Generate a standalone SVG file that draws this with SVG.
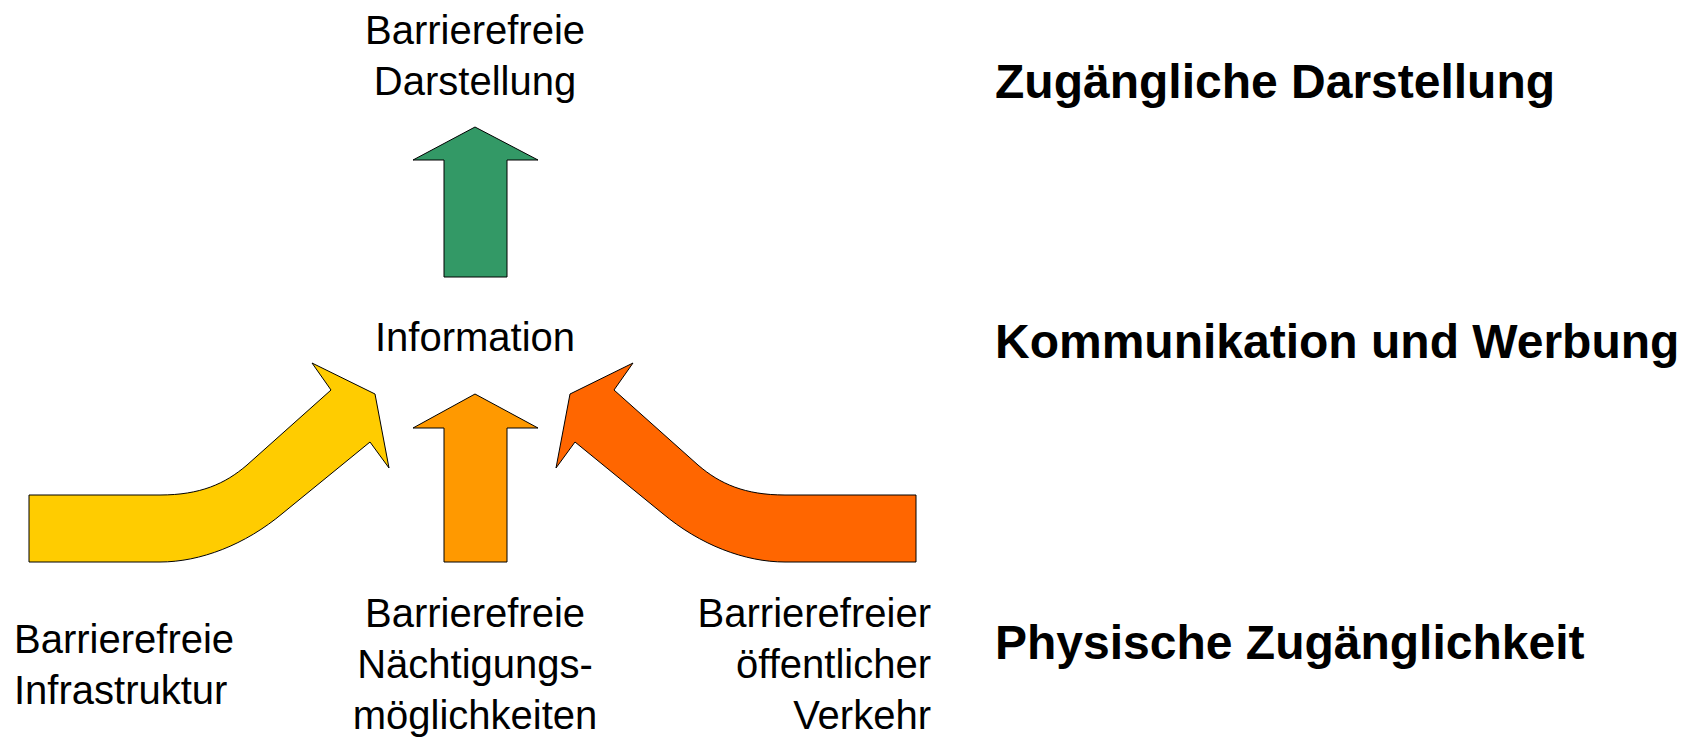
<svg xmlns="http://www.w3.org/2000/svg" width="1693" height="738" viewBox="0 0 1693 738">
<style>
.arrow{stroke:#000;stroke-width:1;stroke-linejoin:miter}
.t{font-family:"Liberation Sans",Arial,sans-serif;font-size:40px;fill:#000}
.h{font-family:"Liberation Sans",Arial,sans-serif;font-size:48px;font-weight:bold;fill:#000}
.m{text-anchor:middle}
.e{text-anchor:end}
</style>
<rect width="1693" height="738" fill="#fff"/>
<g id="connectors">
<path id="arrow-infrastruktur" class="arrow" fill="#FFCC00" d="M29,495 L160,495 C200,495 225,484 247,465 L331,390 L312,363 L375,394 L389,468 L370,442 L283,513 C245,545 200,562 160,562 L29,562 Z"/>
<path id="arrow-naechtigung" class="arrow" fill="#FF9900" d="M444,562 L444,428 L413,428 L475,394 L538,428 L507,428 L507,562 Z"/>
<path id="arrow-verkehr" class="arrow" fill="#FF6600" d="M916,495 L785,495 C745,495 720,484 698,465 L614,390 L633,363 L570,394 L556,468 L575,442 L662,513 C700,545 745,562 785,562 L916,562 Z"/>
<path id="arrow-darstellung" class="arrow" fill="#339966" d="M444,277 L444,160 L413,160 L475,127 L538,160 L507,160 L507,277 Z"/>
</g>
<g id="node-darstellung"><text class="t m" x="475" y="44">Barrierefreie</text><text class="t m" x="475" y="95">Darstellung</text></g>
<g id="node-information"><text class="t m" x="475" y="351">Information</text></g>
<g id="node-infrastruktur"><text class="t" x="14" y="653">Barrierefreie</text><text class="t" x="14" y="704">Infrastruktur</text></g>
<g id="node-naechtigung"><text class="t m" x="475" y="627">Barrierefreie</text><text class="t m" x="475" y="678">Nächtigungs-</text><text class="t m" x="475" y="729">möglichkeiten</text></g>
<g id="node-verkehr"><text class="t e" x="931" y="627">Barrierefreier</text><text class="t e" x="931" y="678">öffentlicher</text><text class="t e" x="931" y="729">Verkehr</text></g>
<g id="level-darstellung"><text class="h" x="995" y="98">Zugängliche Darstellung</text></g>
<g id="level-kommunikation"><text class="h" x="995" y="358">Kommunikation und Werbung</text></g>
<g id="level-physisch"><text class="h" x="995" y="659">Physische Zugänglichkeit</text></g>
</svg>
